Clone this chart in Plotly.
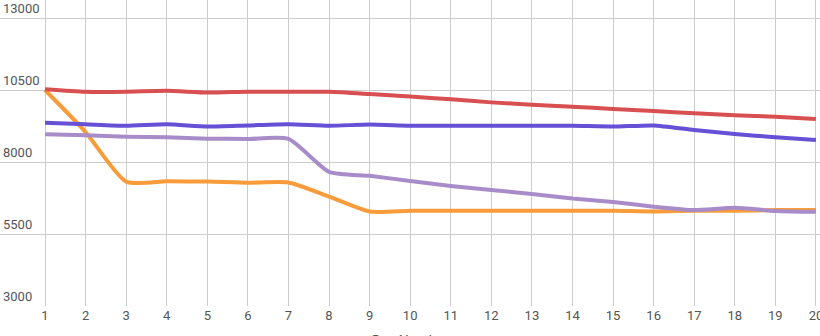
import plotly.graph_objects as go

days = list(range(1, 21))
red = [10530, 10440, 10440, 10470, 10410, 10440, 10440, 10440, 10360, 10270,
       10180, 10070, 9990, 9920, 9840, 9770, 9690, 9620, 9570, 9490]
blue = [9360, 9310, 9260, 9310, 9230, 9270, 9310, 9260, 9300, 9260,
        9260, 9260, 9260, 9260, 9230, 9270, 9110, 8970, 8860, 8760]
purple = [8960, 8930, 8880, 8860, 8810, 8800, 8800, 7660, 7520, 7340,
          7170, 7030, 6890, 6730, 6610, 6450, 6330, 6410, 6300, 6270]
orange = [10500, 9040, 7320, 7330, 7320, 7280, 7290, 6800, 6280, 6310,
          6310, 6310, 6310, 6310, 6310, 6280, 6310, 6310, 6330, 6330]
y_ticks = [3000, 5500, 8000, 10500, 13000]

series = [
    (orange, "#f89c3b"),
    (purple, "#a88cc9"),
    (blue, "#6550d6"),
    (red, "#d84f52"),
]

fig = go.Figure()
for vals, col in series:
    fig.add_trace(go.Scatter(
        x=days, y=vals, mode="lines",
        line=dict(color=col, width=4, shape="spline", smoothing=0.6),
        showlegend=False, hoverinfo="skip",
    ))

fig.update_layout(
    width=820, height=336,
    margin=dict(l=0, r=0, t=0, b=30),
    paper_bgcolor="white", plot_bgcolor="white",
    font=dict(family="Roboto", color="#555555", size=13),
)
fig.update_xaxes(
    range=[-0.109, 20.1],
    tickvals=days, ticktext=[str(d) for d in days],
    showgrid=True, gridcolor="#cccccc", gridwidth=1,
    zeroline=False, showline=False, ticks="",
    tickfont=dict(size=13, color="#555555"),
    ticklabeloverflow="allow",
    automargin=False,
)
fig.update_yaxes(
    range=[3000, 13625],
    tickvals=y_ticks, ticktext=[str(v) for v in y_ticks],
    showgrid=True, gridcolor="#cccccc", gridwidth=1,
    zeroline=False, showline=False, ticks="",
    ticklabelposition="inside top",
    tickfont=dict(size=13, color="#555555"),
    automargin=False,
)
fig.add_annotation(
    text="Day Number", xref="paper", yref="paper", x=0.5, y=0,
    xanchor="center", yanchor="top", yshift=-25, showarrow=False,
    font=dict(size=14, color="#555555"),
)

fig.write_html("out.html")
